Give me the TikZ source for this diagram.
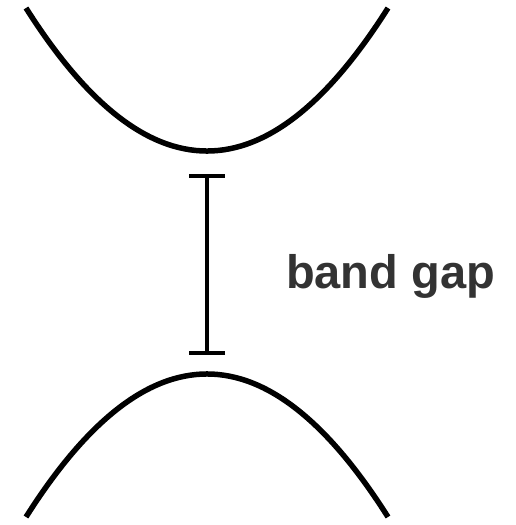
\documentclass[tikz,border=0pt]{standalone}
\usepackage{fontspec}
\setmainfont{Liberation Sans}
\usetikzlibrary{arrows.meta}
\definecolor{labelgray}{HTML}{333333}
\tikzset{
  band/.style={line width=5.5pt},
  gapbar/.style={line width=4pt, {Bar[width=36pt,line width=4pt]}-{Bar[width=36pt,line width=4pt]}, shorten >=-2pt, shorten <=-2pt},
  lbl/.style={font=\bfseries\fontsize{47}{56}\selectfont, text=labelgray, inner sep=0pt}
}
\begin{document}
\begin{tikzpicture}[x=1pt,y=-1pt]
\useasboundingbox (0,0) rectangle (516,525);
% conduction band
\coordinate (cbL) at (26,8);
\coordinate (cbR) at (388,8);
\draw[band] (cbL) .. controls (146.7,198.7) and (267.3,198.7) .. (cbR);
% valence band
\coordinate (vbL) at (26,517);
\coordinate (vbR) at (388,517);
\draw[band] (vbL) .. controls (146.7,326.3) and (267.3,326.3) .. (vbR);
% gap bar
\coordinate (gapTop) at (207,176);
\coordinate (gapBot) at (207,353);
\draw[gapbar] (gapTop) -- (gapBot);
\node[lbl, anchor=base] (label) at (390.5,288) {band gap};
\end{tikzpicture}
\end{document}
